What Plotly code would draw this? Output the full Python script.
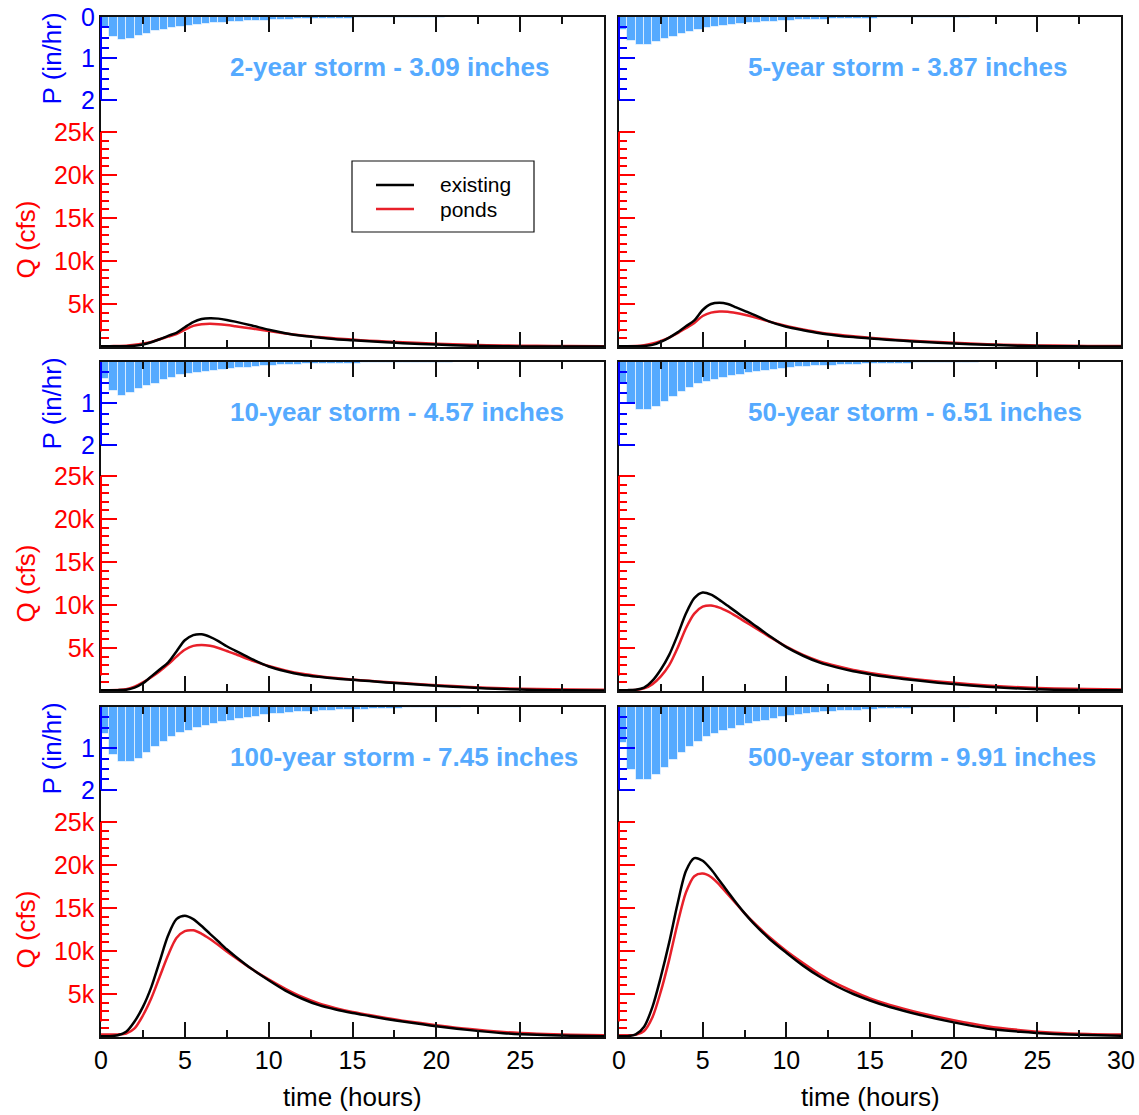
import plotly.graph_objects as go

# ---------------- data ----------------
storms = ["2-year", "5-year", "10-year", "50-year", "100-year", "500-year"]
depths = ["3.09", "3.87", "4.57", "6.51", "7.45", "9.91"]

# rainfall bars: half-hour intervals starting at t = 0 (centres 0.25, 0.75, ...)
p_2yr = [0.25, 0.48, 0.56, 0.52, 0.47, 0.40, 0.35, 0.31, 0.27, 0.24,
         0.21, 0.19, 0.17, 0.15, 0.14, 0.12, 0.11, 0.10, 0.095, 0.088,
         0.08, 0.073, 0.066, 0.06, 0.056, 0.05, 0.047, 0.043, 0.04, 0.037,
         0.034, 0.032, 0.03, 0.027, 0.025, 0.023, 0.021, 0.019, 0.017, 0.015,
         0.013, 0.011, 0.009, 0.007, 0.005, 0.003]
p_5yr = [0.32, 0.58, 0.67, 0.67, 0.60, 0.54, 0.48, 0.41, 0.36, 0.31,
         0.27, 0.24, 0.21, 0.19, 0.17, 0.15, 0.135, 0.12, 0.11, 0.10,
         0.09, 0.083, 0.076, 0.07, 0.064, 0.058, 0.053, 0.049, 0.045, 0.041,
         0.038, 0.035, 0.032, 0.029, 0.026, 0.024, 0.022, 0.02, 0.018, 0.016,
         0.014, 0.012, 0.01, 0.008, 0.006, 0.004]
p_10yr = [0.42, 0.70, 0.81, 0.76, 0.66, 0.58, 0.52, 0.44, 0.38, 0.32,
          0.30, 0.27, 0.24, 0.22, 0.19, 0.16, 0.145, 0.137, 0.12, 0.105,
          0.09, 0.08, 0.073, 0.065, 0.06, 0.056, 0.05, 0.048, 0.045, 0.04,
          0.037, 0.034, 0.031, 0.028, 0.026, 0.024, 0.022, 0.02, 0.018, 0.016,
          0.014, 0.012, 0.01, 0.008, 0.006, 0.004]
p_50yr = [0.50, 0.98, 1.16, 1.16, 1.08, 0.96, 0.84, 0.73, 0.63, 0.54,
          0.48, 0.44, 0.39, 0.34, 0.31, 0.27, 0.24, 0.22, 0.19, 0.16,
          0.15, 0.13, 0.113, 0.105, 0.097, 0.089, 0.081, 0.073, 0.065, 0.06,
          0.055, 0.05, 0.046, 0.042, 0.038, 0.034, 0.031, 0.028, 0.025, 0.022,
          0.019, 0.016, 0.013, 0.01, 0.007, 0.004]
p_100yr = [0.65, 1.15, 1.34, 1.34, 1.25, 1.10, 0.96, 0.84, 0.73, 0.63,
           0.57, 0.51, 0.46, 0.41, 0.37, 0.33, 0.29, 0.26, 0.23, 0.20,
           0.18, 0.16, 0.145, 0.13, 0.12, 0.11, 0.10, 0.09, 0.082, 0.075,
           0.068, 0.062, 0.056, 0.05, 0.045, 0.04, 0.036, 0.032, 0.028, 0.024,
           0.02, 0.017, 0.014, 0.011, 0.008, 0.005]
p_500yr = [0.88, 1.53, 1.77, 1.77, 1.65, 1.47, 1.28, 1.11, 0.96, 0.84,
           0.73, 0.65, 0.59, 0.54, 0.47, 0.41, 0.37, 0.33, 0.29, 0.25,
           0.21, 0.19, 0.16, 0.15, 0.13, 0.11, 0.106, 0.098, 0.09, 0.08,
           0.065, 0.057, 0.05, 0.045, 0.04, 0.036, 0.032, 0.028, 0.024, 0.02,
           0.017, 0.014, 0.011, 0.008, 0.005, 0.003]
rain = [p_2yr, p_5yr, p_10yr, p_50yr, p_100yr, p_500yr]
bar_start = 0.0
bar_step = 0.5

# hydrographs (cfs)
time_q = [0, 0.5, 1, 1.5, 2, 2.5, 3, 3.5, 4, 4.5, 5, 5.5, 6, 6.5, 7, 7.5, 8,
          9, 10, 11, 12, 13, 14, 15, 16, 17, 18, 20, 22, 24, 26, 28, 30]

q_exist_2yr = [100, 100, 100, 100, 150, 300, 550, 900, 1300, 1650, 2300, 2900, 3250, 3350, 3300, 3150, 2950,
               2500, 2000, 1600, 1300, 1100, 900, 780, 660, 550, 450, 280, 150, 80, 60, 50, 50]
q_ponds_2yr = [100, 100, 120, 150, 250, 400, 600, 900, 1200, 1500, 2000, 2450, 2650, 2700, 2650, 2550, 2420,
               2150, 1850, 1580, 1350, 1150, 1000, 860, 740, 640, 550, 380, 260, 180, 140, 120, 100]

q_exist_5yr = [100, 100, 100, 120, 250, 600, 1100, 1700, 2400, 3100, 4300, 5000, 5150, 5000, 4600, 4200, 3800,
               2950, 2350, 1950, 1600, 1350, 1150, 1000, 850, 720, 600, 400, 250, 140, 90, 70, 60]
q_ponds_5yr = [100, 100, 120, 200, 400, 700, 1100, 1600, 2200, 2800, 3600, 4000, 4120, 4100, 3950, 3750, 3500,
               2950, 2450, 2050, 1700, 1450, 1240, 1070, 920, 790, 680, 480, 330, 220, 160, 130, 110]

q_exist_10yr = [100, 100, 100, 150, 400, 900, 1700, 2500, 3300, 4600, 5900, 6500, 6600, 6300, 5800, 5200, 4700,
                3700, 2850, 2300, 1900, 1650, 1450, 1300, 1150, 1000, 880, 620, 400, 220, 120, 80, 70]
q_ponds_10yr = [100, 100, 120, 200, 500, 1000, 1600, 2300, 3100, 4000, 4800, 5250, 5350, 5250, 5000, 4650, 4300,
                3550, 2900, 2400, 2000, 1720, 1500, 1330, 1180, 1040, 920, 680, 470, 320, 220, 170, 140]

q_exist_50yr = [100, 100, 150, 400, 1200, 2500, 4200, 6500, 9000, 10800, 11450, 11200, 10600, 9900, 9200, 8500, 7800,
                6400, 5100, 4100, 3300, 2750, 2300, 1950, 1650, 1400, 1180, 800, 500, 280, 150, 100, 80]
q_ponds_50yr = [100, 100, 120, 300, 800, 1700, 3000, 5000, 7300, 9000, 9800, 9950, 9700, 9250, 8700, 8100, 7500,
                6300, 5150, 4200, 3450, 2900, 2450, 2100, 1800, 1540, 1320, 950, 650, 430, 300, 220, 180]

q_exist_100yr = [100, 100, 200, 600, 1800, 3500, 5800, 8800, 11800, 13700, 14100, 13700, 12900, 12000, 11100, 10200, 9400,
                 7900, 6600, 5400, 4450, 3700, 3200, 2800, 2450, 2100, 1800, 1250, 800, 450, 250, 150, 100]
q_ponds_100yr = [300, 300, 300, 400, 1000, 2500, 4500, 7000, 9500, 11500, 12300, 12400, 12000, 11400, 10700, 9950, 9250,
                 7900, 6700, 5600, 4650, 3900, 3350, 2900, 2550, 2200, 1900, 1380, 920, 580, 380, 260, 200]

q_exist_500yr = [100, 100, 300, 1200, 3500, 7000, 11000, 15500, 19300, 20800, 20500, 19500, 18200, 16900, 15600, 14400, 13300,
                 11400, 9800, 8300, 7000, 5900, 5000, 4250, 3600, 3050, 2550, 1700, 1000, 600, 350, 220, 150]
q_ponds_500yr = [200, 200, 250, 700, 2300, 5300, 9000, 13200, 16800, 18700, 19000, 18600, 17700, 16600, 15500, 14400, 13400,
                 11600, 10000, 8600, 7300, 6200, 5300, 4500, 3850, 3300, 2800, 1950, 1250, 800, 500, 350, 280]

q_exist = [q_exist_2yr, q_exist_5yr, q_exist_10yr, q_exist_50yr, q_exist_100yr, q_exist_500yr]
q_ponds = [q_ponds_2yr, q_ponds_5yr, q_ponds_10yr, q_ponds_50yr, q_ponds_100yr, q_ponds_500yr]

x_major = [0, 5, 10, 15, 20, 25, 30]
x_minor = [2.5, 7.5, 12.5, 17.5, 22.5, 27.5]
q_major = [5000, 10000, 15000, 20000, 25000]
q_major_text = ["5k", "10k", "15k", "20k", "25k"]
q_minor = [v for v in range(1000, 25000, 1000) if v % 5000]
p_major = [0, 1, 2]
p_minor = [0.25, 0.5, 0.75, 1.25, 1.5, 1.75]

# ---------------- layout geometry ----------------
W, H = 1139, 1115
ML, MR, MT, MB = 101, 18, 17, 78
PW = W - ML - MR
PH = H - MT - MB
xdom = [[0, 503 / PW], [518 / PW, 1]]
ydom = [[690 / PH, 1], [346 / PH, 675 / PH], [0, 330 / PH]]
Q_PX_PER_K = 8.6      # pixels per 1000 cfs
P_PX_PER_IN = 41.4    # pixels per in/hr

BLACK = "#111111"
CURVE_RED = "#e8202a"
BAR_BLUE = "#55aaff"
FONT = "Arial, Liberation Sans, sans-serif"

fig = go.Figure()
layout = dict(
    width=W, height=H,
    margin=dict(l=ML, r=MR, t=MT, b=MB, pad=0, autoexpand=False),
    paper_bgcolor="white", plot_bgcolor="white",
    showlegend=False, bargap=0,
    font=dict(family=FONT, size=25, color="black"),
)
shapes, annotations = [], []

for i in range(6):
    r, c = divmod(i, 2)
    xn = "x" if i == 0 else f"x{i + 1}"
    qn = "y" if i == 0 else f"y{2 * i + 1}"
    pn = f"y{2 * i + 2}"
    xk = "xaxis" if i == 0 else f"xaxis{i + 1}"
    qk = "yaxis" if i == 0 else f"yaxis{2 * i + 1}"
    pk = f"yaxis{2 * i + 2}"
    hpx = (ydom[r][1] - ydom[r][0]) * PH
    qmax = hpx / Q_PX_PER_K * 1000
    pmax = hpx / P_PX_PER_IN

    pv = rain[i]
    fig.add_trace(go.Bar(
        x=[bar_start + bar_step * (k + 0.5) for k in range(len(pv))], y=pv, width=bar_step,
        xaxis=xn, yaxis=pn, marker=dict(color=BAR_BLUE, line=dict(color="rgba(255,255,255,0.6)", width=1)),
        hoverinfo="skip"))
    fig.add_trace(go.Scatter(x=time_q, y=q_ponds[i], xaxis=xn, yaxis=qn, mode="lines", name="ponds",
                             line=dict(color=CURVE_RED, width=2.5, shape="spline", smoothing=0.8)))
    fig.add_trace(go.Scatter(x=time_q, y=q_exist[i], xaxis=xn, yaxis=qn, mode="lines", name="existing",
                             line=dict(color="black", width=2.5, shape="spline", smoothing=0.8)))

    xlabels = [str(v) for v in x_major]
    if c == 0:
        xlabels[-1] = ""
    layout[xk] = dict(
        domain=xdom[c], anchor=qn, range=[0, 30], showgrid=False, zeroline=False,
        showline=True, linecolor=BLACK, linewidth=1.5, mirror="ticks",
        ticks="inside", ticklen=15, tickwidth=1.5, tickcolor=BLACK,
        tickmode="array", tickvals=x_major, ticktext=xlabels,
        showticklabels=(r == 2), ticklabelstandoff=0, automargin=False,
        tickfont=dict(size=25, color="black"),
        minor=dict(tickmode="array", tickvals=x_minor, ticks="inside", ticklen=7,
                   tickwidth=1.5, tickcolor=BLACK, showgrid=False),
    )
    layout[qk] = dict(
        domain=ydom[r], anchor=xn, range=[0, qmax], showgrid=False, zeroline=False,
        showline=True, linecolor=BLACK, linewidth=1.5, mirror=True,
        ticks="inside", ticklen=16, tickwidth=1.5, tickcolor="red",
        tickmode="array", tickvals=q_major, ticktext=q_major_text,
        showticklabels=(c == 0), ticklabelstandoff=0, automargin=False,
        tickfont=dict(size=25, color="red"),
        minor=dict(tickmode="array", tickvals=q_minor, ticks="inside", ticklen=8,
                   tickwidth=1.5, tickcolor="red", showgrid=False),
    )
    layout[pk] = dict(
        overlaying=qn, anchor=xn, side="left", range=[pmax, 0], showgrid=False, zeroline=False,
        showline=False, ticks="inside", ticklen=16, tickwidth=1.5, tickcolor="blue",
        tickmode="array", tickvals=p_major,
        ticktext=["0", "1", "2"] if r == 0 else ["", "1", "2"],
        showticklabels=(c == 0), ticklabelstandoff=5, automargin=False,
        tickfont=dict(size=25, color="blue"),
        minor=dict(tickmode="array", tickvals=p_minor, ticks="inside", ticklen=8,
                   tickwidth=1.5, tickcolor="blue", showgrid=False),
    )
    # coloured segments of the left frame
    shapes.append(dict(type="line", xref=f"{xn} domain", yref=pn, x0=0, x1=0, y0=0, y1=2,
                       line=dict(color="blue", width=2), layer="above"))
    shapes.append(dict(type="line", xref=f"{xn} domain", yref=qn, x0=0, x1=0, y0=1800, y1=25000,
                       line=dict(color="red", width=2), layer="above"))
    # storm title
    annotations.append(dict(
        xref=f"{xn} domain", yref=f"{qn} domain", x=0.252, y=1 - 50 / hpx,
        xanchor="left", yanchor="middle", showarrow=False,
        text=f"<b>{storms[i]} storm - {depths[i]} inches</b>",
        font=dict(size=26, color=BAR_BLUE, family=FONT)))
    if c == 0:
        annotations.append(dict(xref="paper", yref=pn, x=-49 / PW, y=1, textangle=-90,
                                xanchor="center", yanchor="middle", showarrow=False,
                                text="P (in/hr)", font=dict(size=26, color="blue", family=FONT)))
        annotations.append(dict(xref="paper", yref=qn, x=-76 / PW, y=12500, textangle=-90,
                                xanchor="center", yanchor="middle", showarrow=False,
                                text="Q (cfs)", font=dict(size=26, color="red", family=FONT)))
    if r == 2:
        annotations.append(dict(xref=f"{xn} domain", yref="paper", x=0.5, y=-60 / PH,
                                xanchor="center", yanchor="middle", showarrow=False,
                                text="time (hours)", font=dict(size=26, color="black", family=FONT)))

# legend drawn in the first panel
lx0, lx1, ly0, ly1 = 251 / PW, 433 / PW, (1037 - 232) / PH, (1037 - 161) / PH
shapes.append(dict(type="rect", xref="paper", yref="paper", x0=lx0, x1=lx1, y0=ly0, y1=ly1,
                   line=dict(color=BLACK, width=1.2), fillcolor="white", layer="above"))
legend_items = [("existing", "black", 185), ("ponds", CURVE_RED, 209)]
for name, col, ypx in legend_items:
    yy = (1037 - ypx) / PH
    shapes.append(dict(type="line", xref="paper", yref="paper", x0=275 / PW, x1=313 / PW, y0=yy, y1=yy,
                       line=dict(color=col, width=2.5), layer="above"))
    annotations.append(dict(xref="paper", yref="paper", x=337 / PW, y=yy, xanchor="left", yanchor="middle",
                            showarrow=False, text=name, font=dict(size=21, color="black", family=FONT)))

layout["shapes"] = shapes
layout["annotations"] = annotations
fig.update_layout(**layout)

fig.write_html("out.html", config={"displayModeBar": False},
               post_script="document.body.style.margin='0';document.body.style.padding='0';")
